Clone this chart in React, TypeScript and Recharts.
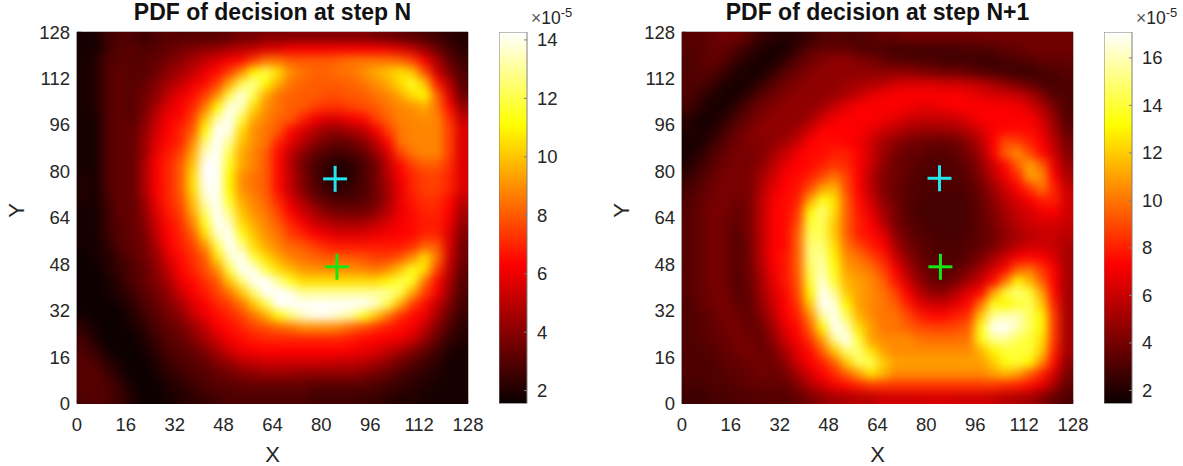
import React from "react";
import { Bar, BarChart, ReferenceArea, Scatter, ScatterChart, XAxis, YAxis } from "recharts";

// values are in units of 1e-5, rows run top (Y=128) to bottom (Y=0), 4 units per cell
const pdfStepN: number[][] = [
  [1.8,1.8,2.5,2.8,2.8,2.5,2.8,3,3,3,3,3,3.2,3.5,3.5,3.8,3.8,3.8,3.8,3.8,3.8,3.8,3.8,3.8,3.5,3.5,3.2,3,2.8,2.5,2.2,2],
  [1.8,1.8,2.5,3,3,2.8,3,3.2,3.5,3.8,4,4.2,4.5,4.8,5,5.5,5.5,6,6,6,6,6,6,6,6,5.8,5.5,5,4.2,3.4,2.6,2.2],
  [1.8,2,2.8,3,3,3,3.2,3.6,4,4.5,5,5.5,6,6.5,7.5,8.5,8.5,8,8,8,8,8.2,8.5,8.5,8.5,8.5,8.2,7.5,6,4.5,3.2,2.5],
  [1.8,2,2.8,3.2,3,3,3.4,4,4.5,5,5.8,6.5,7.5,9,11,12,10.5,9,8.5,8.2,8.2,8.5,8.5,9,9.5,10,10.5,10,7.8,5.2,3.8,2.8],
  [1.8,2,2.8,3.2,3,3.2,3.8,4.5,5,5.8,6.5,7.5,9.5,12,13,11,9.5,8.5,8.2,8,8,8,8.2,8.5,9,9.5,10.5,11.5,10,6.8,4.8,3],
  [1.8,2,2.8,3.2,3,3.5,4,5,5.8,6.5,7.5,9,12,14,12,9.5,8.5,8.2,8,8,7.8,7.8,8,8,8.5,8.8,9.5,10.5,11,8.2,5.5,3.4],
  [1.8,2,2.8,3.2,3,3.5,4.5,5.5,6,7,8.5,11,14,13.5,10.5,9,8.5,8,8,7.5,7.2,7.2,7.5,7.8,8,8.5,8.8,9,9.5,8.5,6.5,4.2],
  [1.8,1.8,2.8,3.2,3,3.8,5,6,6.5,7.5,10,13,14.5,12,9.5,8.8,8.2,8,7,6,5.5,5.5,6,6.5,7.5,8.2,8.8,8.8,9,8.8,7.2,5],
  [1.8,1.8,2.8,3.2,3.2,4,5.2,6.2,7,8,11,14.5,14,10.5,9,8.5,8,6.5,5.5,4.8,4.2,4.2,4.5,5,6,7.5,8.5,8.8,8.8,8.8,7.5,5.5],
  [1.8,1.8,2.8,3.2,3.2,4.2,5.5,6.5,7,8.8,12.5,15,13,10,9,8.5,7,5.8,4.8,4,3.5,3.2,3.5,4,5,6.5,8.5,8.8,8.8,8.8,7.5,5.5],
  [1.8,1.8,2.8,3.2,3.2,4.2,5.8,6.8,7.5,9.5,13.5,15,12,9.5,8.8,8,6.5,5,4,3.2,2.8,2.6,2.8,3.2,4.2,5.5,7.5,8.5,8.8,8.8,7.5,5.5],
  [1.8,1.8,2.8,3.2,3.2,4.5,6,7,8,10,14.5,15,11.5,9.5,8.8,8,6.5,4.8,3.5,2.8,2.3,2,2.2,2.8,3.5,5,6.5,7.5,8,8,7.2,5.5],
  [2,1.8,2.8,3.2,3.2,4.5,6,7,8,10.5,14.5,14.5,11,9,8.5,8,6.5,5,3.8,2.8,2.2,2,2.2,2.8,3.5,4.8,6,7,7.5,7.5,7,5.5],
  [2,1.8,2.8,3.2,3.2,4.5,6,7,8,10.5,14,14.5,11,9,8.5,8,6.5,5,3.8,3,2.5,2.2,2.5,2.8,3.5,4.5,5.8,7,7.5,7.5,7,5.5],
  [2,1.8,2.6,3.2,3.2,4.2,5.8,7,7.8,10,13.5,15,11.5,9.5,8.8,8.2,7,5.5,4.5,3.5,3,2.8,2.8,3,3.5,4.5,5.8,6.8,7.2,7.2,6.5,5],
  [1.8,1.8,2.5,3.2,3.2,4,5.5,6.8,7.5,9.5,12.5,15,12.5,10,9,8.5,7.5,6.2,5.2,4.5,3.8,3.5,3.5,3.5,4,4.8,5.8,6.5,7,7,6.2,4.5],
  [1.8,1.8,2.5,3,3.2,3.8,5.2,6.5,7.2,8.8,11.5,14.5,13.5,10.5,9.5,8.8,8,7,6,5.2,4.8,4.5,4.5,4.5,5,5.5,6,6.5,6.8,6.8,5.8,4.2],
  [1.8,1.8,2.4,3,3.2,3.6,5,6.2,7,8,10.5,13.5,14.5,11.5,10,9,8.5,7.5,7,6.2,5.8,5.5,5.5,5.5,5.8,6,6.2,6.5,7,7,5.5,3.8],
  [1.8,1.8,2.2,2.8,3.2,3.5,4.5,6,6.8,7.5,9,12,14.5,13,10.5,9.5,8.8,8.2,8,7.5,7,6.8,6.8,6.8,6.8,6.8,6.8,7.2,8.2,8,5.5,3.5],
  [1.6,1.8,2,2.6,3,3.5,4.2,5.5,6.5,7.2,8,10.5,13.5,14.5,12,10.5,9.5,8.8,8.5,8.2,8,8,8,7.8,7.5,7.5,8,9,10.5,8.5,5.2,3.5],
  [1.6,1.6,2,2.4,2.8,3.2,4,5,6.2,7,7.8,9,12,14.5,14,12,10.5,9.8,9.2,9,9,9,9,8.8,8.5,9,10,11.5,10.5,7.5,5,3.2],
  [1.6,1.6,1.8,2.2,2.8,3.2,3.8,4.5,5.8,6.5,7.2,8,10,12.5,14.5,14.5,13,11.5,10.5,10.5,10.5,10.5,10.5,10.5,10.5,11,12,11.5,8.5,6.5,4.5,3],
  [1.6,1.6,1.8,2,2.5,3,3.5,4.2,5.2,6,6.8,7.5,8.5,10,12.5,14.5,15,14,13,13,13,13,13,13,13,13,12,9.5,7.5,6,4.2,2.8],
  [1.6,1.6,1.6,1.8,2.2,2.8,3.2,3.8,4.5,5.5,6.2,7,7.5,8.5,10,12,14.5,15,15,15,15,15,15,14.5,13.5,12,9.5,7.5,6.5,5,3.8,2.6],
  [1.8,1.6,1.6,1.6,2,2.5,3,3.5,4,5,5.8,6.5,7,7.5,8.5,9.5,11,12.5,13.5,14,14,13.5,13,11.5,10,8.5,7.2,6.5,5.8,4.5,3.2,2.4],
  [2.2,1.8,1.6,1.6,1.8,2.2,2.8,3.2,3.6,4.2,5,6,6.5,7,7.5,7.8,8.2,8.5,9,9,9,8.8,8.2,7.8,7.2,6.8,6.5,6,5,3.8,2.8,2.2],
  [2.6,2,1.6,1.6,1.6,2,2.5,3,3.2,3.8,4.5,5.2,6,6.5,6.8,7,7,7,7,7,7,7,6.8,6.5,6.2,6,5.8,5.2,4.2,3.2,2.4,2],
  [2.8,2.4,1.8,1.6,1.6,1.8,2.2,2.8,3,3.3,3.8,4.5,5.2,5.8,6,6.2,6.2,6.2,6.2,6.2,6.2,6.2,6,5.8,5.5,5,4.5,3.8,3.2,2.6,2,1.8],
  [3,2.8,2.2,1.8,1.6,1.6,2,2.5,2.8,3,3.2,3.8,4.2,4.8,5,5.2,5.2,5.2,5.2,5.2,5.2,5,5,4.8,4.5,4,3.5,3,2.6,2.2,1.8,1.8],
  [3,3,2.6,2,1.6,1.6,1.8,2.2,2.5,2.8,3,3.2,3.5,3.8,4,4.2,4.2,4.2,4,4,4,4,4,3.8,3.5,3.2,2.8,2.5,2.2,2,1.8,1.8],
  [3,3,2.8,2.4,1.8,1.6,1.6,2,2.2,2.5,2.8,3,3,3.2,3.2,3.2,3.2,3.2,3.2,3,3,3,3,3,2.8,2.6,2.4,2.2,2,1.8,1.8,1.8],
  [2.8,3,2.8,2.5,2,1.6,1.6,1.8,2,2.2,2.4,2.6,2.8,2.8,2.8,2.8,2.8,2.8,2.8,2.6,2.6,2.6,2.6,2.5,2.4,2.2,2,2,1.8,1.8,1.8,1.8],
];

const pdfStepN1: number[][] = [
  [3.2,3.2,3.5,3.8,3.8,3.2,2.5,2.2,2,2.2,2.5,3,3.2,3,3,3.2,3.5,3.5,3.8,3.8,3.8,3.8,3.8,3.8,3.8,3.8,3.8,3.8,3.8,3.8,3.8,3.8],
  [3.2,3.2,3.5,3.5,3,2.5,2,1.8,1.8,2.5,3.2,3.5,3.5,3.5,3.2,3,3,2.8,2.8,2.8,2.8,2.8,2.8,3,3,3.2,3.5,3.5,3.8,3.8,3.8,3.8],
  [3,3.2,3.5,3.2,2.5,2,1.8,1.8,2.5,3.2,3.8,4.2,4.5,4.5,4.2,4,3.5,3.2,3.2,3,3,2.8,2.8,2.8,2.6,2.6,2.8,3,3.2,3.5,3.5,3.5],
  [3,3.2,3.2,2.6,2,1.8,1.8,2.5,3.2,3.8,4.2,4.5,4.5,4.5,4.5,4.5,4.5,4.5,4.5,4.2,4,3.8,3.8,3.5,3.2,3,2.8,2.6,2.6,2.8,3,3.2],
  [3,3,2.6,2,1.8,1.8,2.5,3.2,3.8,4.2,4.5,4.5,4.5,4.8,5,5.2,5.5,6,6.2,6.2,6.2,6,6,5.8,5.5,5,4.5,4,3.5,3,2.8,3],
  [3,2.6,2,1.8,1.8,2.5,3.2,3.8,4.2,4.5,4.5,4.5,4.8,5.2,5.8,6.5,6.8,7,7,7,7,7,7,6.8,6.5,6.2,6,5.8,5.2,4.2,3.2,3],
  [2.8,2.2,1.8,1.8,2.4,3.2,3.8,4.2,4.5,4.5,4.5,5,5.8,6.5,7,7,7,7,6.8,6.5,6.5,6.8,7,7,7,7,7,6.8,6.2,5.2,4,3],
  [2.2,1.8,1.8,2.2,3,3.6,4.2,4.5,4.5,4.5,5,6,6.8,7,7,7,6.8,6.5,6,5.8,5.8,5.8,6,6.5,7,7,7,7,7,6,4.5,3.2],
  [2,1.8,2,2.8,3.5,4,4.5,4.5,4.5,5,6,7,7.2,7.2,7,6.5,6,5.5,5,4.8,4.8,4.8,5,5.5,6.2,7,7.5,7.5,7.5,6.5,5,3.5],
  [1.8,1.8,2.5,3.2,3.8,4.2,4.2,4.5,5,5.8,7,7.5,7.5,7.2,6.8,6,5,4.5,4,3.8,3.6,3.6,3.8,4.5,5.5,7,9,8.8,8,7,5.5,4],
  [1.8,2.2,3,3.5,4,4,4.2,5,5.8,6.8,7.5,7.5,8,8,7,6,4.8,4,3.6,3.5,3.2,3.2,3.5,4,5,7,9.5,10.5,9,7.5,6,4.2],
  [2,2.6,3.2,3.8,4,4,4.5,5.5,6.5,7.2,7.5,8,8.5,8.2,7,5.8,4.5,3.8,3.5,3.2,3,3,3.2,3.6,4.5,6,7.5,9.5,11,9.5,6.5,4.8],
  [2.4,3,3.5,4,4,4,5,6,7,7.5,8,9,10,8.8,7,5.5,4.2,3.8,3.4,3,3,3,3,3.4,4.2,5.5,6.8,8.2,11,10.5,7.2,5.2],
  [2.8,3.2,3.8,4,4,4,5.2,6.5,7.2,7.8,9,11,11.5,9,7.2,5.5,4.2,3.6,3.2,3,3,3,3,3.2,3.8,4.8,6,7.2,8.5,10,8,5.8],
  [3,3.5,3.8,4,3.8,4,5.5,6.8,7.5,8,11,13.5,12.5,9.5,7.5,6,4.5,3.8,3.2,3,2.8,2.8,2.8,3,3.6,4.5,5.5,6.2,7,8,8,6],
  [3.2,3.5,4,4,3.5,4,5.5,7,7.5,8.5,13,15,12.5,9.5,7.8,6.5,5,4,3.2,2.8,2.8,2.8,2.8,3,3.5,4.2,5,5.8,6.2,6.8,7,6],
  [3.2,3.5,4,3.8,3.5,4,5.5,7,7.5,9,14,14.5,12,9.5,8,7,5.5,4,3.4,3,2.8,2.8,2.8,3,3.5,4,4.8,5.5,6,6.2,6.2,5.8],
  [3.2,3.5,4,3.8,3.2,4,5.5,7,7.5,9.5,14.5,14.5,12,9.5,8,7.5,6.5,4.5,3.6,3.2,3,2.8,2.8,3,3.4,3.8,4.5,5,5.5,5.8,5.8,5.5],
  [3.2,3.5,4,3.8,3.2,3.8,5.5,7,7.5,9.5,15,15,12.5,10,9,8,7.2,5.2,4,3.4,3,3,3,3.2,3.5,4,4.8,5.5,6,6,5.8,5.2],
  [3.2,3.5,4,3.8,3.2,3.8,5.5,7,7.8,9.5,15,15.5,13,10.5,10,9,8,6,4.5,3.6,3.2,3,3,3.4,4,5,6,7,7.5,7,6.2,5],
  [3.2,3.5,4,3.8,3.2,3.8,5.2,6.8,7.8,9.5,14.5,16,13.5,11,10.5,10,8.8,7,5.2,4,3.5,3.2,3.4,4,5,6.2,7.5,9.5,10,8.5,7,5],
  [3.2,3.5,4,3.8,3.2,3.6,5,6.5,7.8,9.2,14,16.5,14,11.5,11,10.5,9.5,7.8,6,4.5,3.8,3.5,4,5,6,7.5,10,13,11.5,9.5,7,5],
  [3.2,3.5,3.8,4,3.2,3.5,4.8,6.2,7.5,9,13,17,15.5,12,11,10.5,10,8.8,7,5.5,4.5,4.5,5.5,6.5,7.5,11,14,15,14,11,7.5,5],
  [3,3.5,3.8,4,3.5,3.5,4.5,6,7.2,8.5,12,17,16.5,13,11,10.5,10,9.5,8,6.5,6,6,6.5,7.5,10,13.5,13,14,14.5,12,8,5],
  [3,3.2,3.5,4,3.8,3.4,4.2,5.5,7,8,10.5,15.5,17,14.5,11.5,10.5,10,10,9,8,7.5,7.5,8,8.5,12,15.5,16,16,14.5,13,8.5,5],
  [3,3.2,3.5,3.8,4,3.5,3.8,5,6.5,7.5,9.5,13,17,16,12.5,11,10,10,9.5,9,8.8,8.8,9,9.5,13.5,17,17,16,14.5,13,8.5,5],
  [3,3.2,3.4,3.6,4,3.8,3.6,4.5,6,7,8.5,11,15.5,17,14,11,10.5,10.5,10.5,10,9.8,9.8,9.8,10,13.5,15.5,15.5,14.5,14,12.5,8.5,5],
  [3,3,3.2,3.5,3.8,4,3.6,4,5.2,6.5,7.5,9.5,12,15,15,12.5,11,10.5,10.5,10.5,10.5,10.5,10.5,10.5,11.5,13,14,14,14,12,8,5],
  [3,3,3,3.4,3.5,3.8,3.8,3.8,4.5,6,7,8,9.5,12,14.5,14.5,12,11,11,11,11,11,11,11,11,12,13.5,14,13,10.5,7.5,4.5],
  [3,3,3,3.2,3.4,3.5,3.8,3.6,4,5,6.2,7.2,8.2,9.5,11,12.5,11.5,10.5,10.5,10.5,10.5,10.5,10.5,10.5,10.5,11,11.5,11,9.5,8,6,4],
  [2.8,2.8,3,3,3.2,3.4,3.5,3.5,3.5,4.2,5.2,6,6.8,7.5,8,8.5,8.5,8.5,8.5,8.5,8.5,8.5,8.5,8.5,8.5,8.5,8.2,8,7.5,6.5,5,3.5],
  [2.6,2.6,2.8,2.8,3,3,3.2,3.2,3.2,3.5,4,4.5,5,5.2,5.5,5.5,6,6,6,6,6.2,6.2,6,6,6,5.8,5.5,5.2,5,4.2,3.5,3],
];

const axisTicks = [0, 16, 32, 48, 64, 80, 96, 112, 128];
const leftBarTicks = [2, 4, 6, 8, 10, 12, 14];
const rightBarTicks = [2, 4, 6, 8, 10, 12, 14, 16];
const leftRange: [number, number] = [1.56, 14.27];
const rightRange: [number, number] = [1.45, 17.09];
const leftMarkers = [
  { x: 84.5, y: 77.4, color: "#22e6f0" },
  { x: 85.1, y: 47.1, color: "#14e614" },
];
const rightMarkers = [
  { x: 84.3, y: 77.6, color: "#22e6f0" },
  { x: 84.6, y: 47.1, color: "#14e614" },
];

const PLOT_W = 391;
const PLOT_H = 371.5;
const PLOT_L = 77;
const PLOT_T = 32;
const BLEED = 24;
const FONT = "'Liberation Sans', Arial, sans-serif";
const INK = "#262626";
const FRAME = "#7f7f7f";

// matlab "hot" colormap
const hot = (v: number, min: number, max: number) => {
  const t = Math.min(1, Math.max(0, (v - min) / (max - min)));
  const r = Math.min(1, 0.04 + t / 0.375);
  const g = Math.min(1, Math.max(0, (t - 0.375) / 0.375));
  const b = Math.min(1, Math.max(0, (t - 0.75) / 0.25));
  return `rgb(${Math.round(r * 255)},${Math.round(g * 255)},${Math.round(b * 255)})`;
};

const toCells = (grid: number[][]) =>
  grid.flatMap((row, r) =>
    row.map((v, c) => ({ x: c * 4 + 2, y: 126 - r * 4, v, r, c }))
  );

const Cell: React.FC<any> = ({ cx, cy, payload, range }) => {
  const w = PLOT_W / 32;
  const h = PLOT_H / 32;
  const left = payload.c === 0 ? BLEED : 0;
  const right = payload.c === 31 ? BLEED : 0;
  const top = payload.r === 0 ? BLEED : 0;
  const bottom = payload.r === 31 ? BLEED : 0;
  return (
    <rect
      x={cx - w / 2 - left - 0.5}
      y={cy - h / 2 - top - 0.5}
      width={w + left + right + 1}
      height={h + top + bottom + 1}
      fill={hot(payload.v, range[0], range[1])}
    />
  );
};

const Plus: React.FC<any> = ({ cx, cy, payload }) => (
  <g stroke={payload.color} strokeWidth={3}>
    <line x1={cx - 12} x2={cx + 12} y1={cy} y2={cy} />
    <line x1={cx} x2={cx} y1={cy - 13} y2={cy + 13} />
  </g>
);

interface PanelProps {
  grid: number[][];
  range: [number, number];
  markers: { x: number; y: number; color: string }[];
  title: string;
  left: number;
  barTicks: number[];
  barLeft: number;
  gradient: string;
}

const Panel: React.FC<PanelProps> = ({ grid, range, markers, title, left, barTicks, barLeft, gradient }) => (
  <>
    <div
      style={{
        position: "absolute",
        left: left + PLOT_L,
        width: PLOT_W,
        top: 0,
        textAlign: "center",
        font: `bold 23px ${FONT}`,
        color: "#111",
        lineHeight: "24px",
      }}
    >
      {title}
    </div>
    <div style={{ position: "absolute", left, top: 0 }}>
      <ScatterChart
        width={PLOT_L + PLOT_W + 20}
        height={466}
        margin={{ left: 0, right: 20, top: PLOT_T, bottom: 0 }}
      >
        <Scatter
          data={toCells(grid)}
          className="heat"
          isAnimationActive={false}
          shape={(p: any) => <Cell {...p} range={range} />}
        />
        <ReferenceArea x1={0} x2={128} y1={0} y2={128} fill="none" stroke={FRAME} strokeWidth={1} />
        <XAxis
          type="number"
          dataKey="x"
          domain={[0, 128]}
          ticks={axisTicks}
          interval={0}
          height={466 - PLOT_T - PLOT_H}
          stroke={FRAME}
          tickSize={-4}
          tickMargin={18}
          tick={{ fill: INK, fontSize: 18.5, fontFamily: FONT }}
          label={{ value: "X", position: "insideBottom", offset: 4, fill: INK, fontSize: 22, fontFamily: FONT }}
        />
        <YAxis
          type="number"
          dataKey="y"
          domain={[0, 128]}
          ticks={axisTicks}
          interval={0}
          width={PLOT_L}
          stroke={FRAME}
          tickSize={-4}
          tickMargin={11}
          tick={{ fill: INK, fontSize: 18.5, fontFamily: FONT }}
          label={{ value: "Y", angle: -90, position: "insideLeft", offset: 16, fill: INK, fontSize: 22, fontFamily: FONT }}
        />
        <Scatter
          data={markers}
          isAnimationActive={false}
          shape={(p: any) => <Plus {...p} />}
        />
      </ScatterChart>
    </div>
    <div style={{ position: "absolute", left: barLeft, top: 0 }}>
      <BarChart
        width={28 + 40}
        height={466}
        data={[{ name: "scale", span: range }]}
        barCategoryGap={0}
        margin={{ left: 0, right: 0, top: PLOT_T, bottom: 466 - PLOT_T - PLOT_H }}
      >
        <XAxis dataKey="name" hide />
        <YAxis
          orientation="right"
          type="number"
          domain={range}
          allowDataOverflow
          ticks={barTicks}
          interval={0}
          width={40}
          axisLine={false}
          stroke={FRAME}
          tickSize={-3}
          tickMargin={13}
          tick={{ fill: INK, fontSize: 18.5, fontFamily: FONT }}
        />
        <Bar dataKey="span" fill={`url(#${gradient})`} stroke={FRAME} isAnimationActive={false} />
      </BarChart>
    </div>
    <div
      style={{
        position: "absolute",
        left: barLeft + 32,
        top: 8,
        font: `17.5px ${FONT}`,
        color: INK,
        whiteSpace: "nowrap",
      }}
    >
      <span style={{ color: "#555" }}>×</span>10<sup style={{ fontSize: 13, lineHeight: 0 }}>-5</sup>
    </div>
  </>
);

const Stops = () => (
  <>
    <stop offset="0" stopColor="#ffffff" />
    <stop offset="0.25" stopColor="#ffff00" />
    <stop offset="0.625" stopColor="#ff0000" />
    <stop offset="1" stopColor="#0a0000" />
  </>
);

export default function App() {
  return (
    <div style={{ position: "absolute", left: 0, top: 0, width: 1183, height: 466, overflow: "hidden", background: "#fff" }}>
      <style>{`.heat { filter: url(#soft); }`}</style>
      <svg width={0} height={0} style={{ position: "absolute" }}>
        <defs>
          <linearGradient id="hotLeft" x1="0" y1="0" x2="0" y2="1"><Stops /></linearGradient>
          <linearGradient id="hotRight" x1="0" y1="0" x2="0" y2="1"><Stops /></linearGradient>
          <filter
            id="soft"
            filterUnits="userSpaceOnUse"
            primitiveUnits="userSpaceOnUse"
            x={PLOT_L - BLEED}
            y={PLOT_T - BLEED}
            width={PLOT_W + 2 * BLEED}
            height={PLOT_H + 2 * BLEED}
            colorInterpolationFilters="sRGB"
          >
            <feGaussianBlur in="SourceGraphic" stdDeviation={5} result="blur" />
            <feFlood x={PLOT_L} y={PLOT_T} width={PLOT_W} height={PLOT_H} floodColor="#000" result="box" />
            <feComposite in="blur" in2="box" operator="in" />
          </filter>
        </defs>
      </svg>
      <Panel
        grid={pdfStepN}
        range={leftRange}
        markers={leftMarkers}
        title="PDF of decision at step N"
        left={0}
        barTicks={leftBarTicks}
        barLeft={499}
        gradient="hotLeft"
      />
      <Panel
        grid={pdfStepN1}
        range={rightRange}
        markers={rightMarkers}
        title="PDF of decision at step N+1"
        left={605}
        barTicks={rightBarTicks}
        barLeft={1104}
        gradient="hotRight"
      />
    </div>
  );
}
